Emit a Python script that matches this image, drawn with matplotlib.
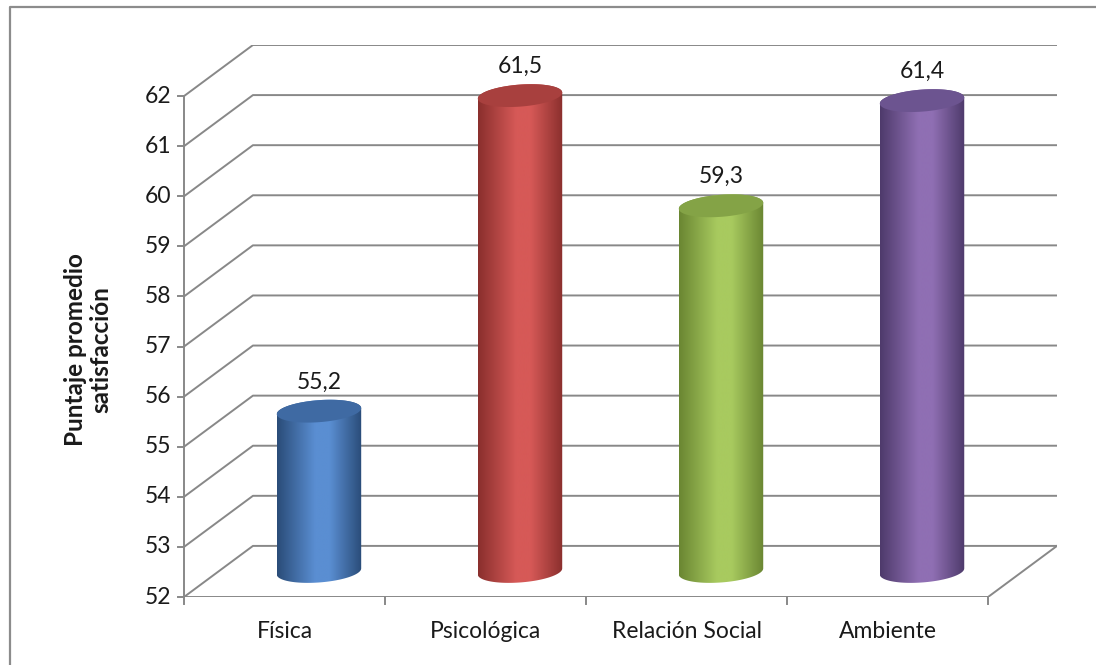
import numpy as np
import matplotlib
matplotlib.use('Agg')
import matplotlib.pyplot as plt
from matplotlib.patches import Polygon
from matplotlib.lines import Line2D
from matplotlib.colors import LinearSegmentedColormap

# datos
categorias = ['Física', 'Psicológica', 'Relación Social', 'Ambiente']
puntajes = [55.2, 61.5, 59.3, 61.4]
etiquetas = ['55,2', '61,5', '59,3', '61,4']
y_ticks = list(range(52, 63))

# (borde oscuro, brillo, tapa)
colores = [
    ('#2a4c78', '#5a8ed2', '#3f6aa3'),
    ('#8a2f2d', '#d65957', '#a8403e'),
    ('#6a8632', '#a8ca5f', '#84a346'),
    ('#4e3a6b', '#8f6fb3', '#6c5490'),
]

plt.rcParams['font.family'] = ['Lato', 'DejaVu Sans']

Y_MIN, Y_MAX = 52, 62
DX, DY = 0.343, 1.02      # desplazamiento de profundidad (perspectiva)
A, B, S = 0.21, 0.22, 0.06  # semiejes de la elipse y su inclinacion
GRIS = '#888888'
FS = 16.5

fig = plt.figure(figsize=(10.96, 6.65), dpi=100)
ax = fig.add_axes([184 / 1096, 68 / 665, 873 / 1096, 552 / 665])
ax.set_axis_off()
n = len(categorias)
x0, x1 = -0.5, n - 0.5

# rejilla: pared izquierda + pared del fondo
for v in y_ticks:
    ax.plot([x0, x0 + DX, x1 + DX], [v, v + DY, v + DY], color=GRIS, lw=1.4,
            solid_capstyle='butt', zorder=1)
# suelo
ax.plot([x0, x1, x1 + DX], [Y_MIN, Y_MIN, Y_MIN + DY], color=GRIS, lw=1.4, zorder=1)
# eje vertical frontal
ax.plot([x0, x0], [Y_MIN, Y_MAX], color=GRIS, lw=1.4, zorder=1, clip_on=False)

tick_dx = 6 / 201
tick_dy = 7 / 50.1
for v in y_ticks:
    ax.plot([x0 - tick_dx, x0], [v, v], color=GRIS, lw=1.4, clip_on=False)
    ax.annotate(str(v), (x0, v), xytext=(-9, 0), textcoords='offset points',
                ha='right', va='center', fontsize=FS, color='#1a1a1a')
for k in range(n + 1):
    ax.plot([x0 + k, x0 + k], [Y_MIN, Y_MIN - tick_dy], color=GRIS, lw=1.4, clip_on=False)
for i, c in enumerate(categorias):
    ax.annotate(c, (i, Y_MIN), xytext=(0, -25), textcoords='offset points',
                ha='center', va='center', fontsize=FS, color='#1a1a1a')


def elipse(cx, cy, t):
    return cx + A * np.cos(t), cy + B * np.sin(t) + S * np.cos(t)


# cilindros
for i, (v, lab) in enumerate(zip(puntajes, etiquetas)):
    oscuro, claro, tapa = colores[i]
    cx = i + DX / 2
    yb = Y_MIN + DY / 2
    yt = v + DY / 2

    t_inf = np.linspace(np.pi, 2 * np.pi, 60)
    t_sup = np.linspace(0, np.pi, 60)
    xb, ybb = elipse(cx, yb, t_inf)
    xt, ytt = elipse(cx, yt, t_sup)
    cuerpo = Polygon(np.column_stack([np.r_[xb, xt], np.r_[ybb, ytt]]),
                     closed=True, facecolor='none', edgecolor='none')
    ax.add_patch(cuerpo)

    cmap = LinearSegmentedColormap.from_list(
        'c%d' % i, [(0, oscuro), (0.45, claro), (0.62, claro), (1, oscuro)])
    grad = np.linspace(0, 1, 256).reshape(1, -1)
    im = ax.imshow(grad, cmap=cmap, aspect='auto', interpolation='bilinear',
                   extent=[cx - A, cx + A, yb - B - 0.2, yt + B + 0.2], zorder=3)
    im.set_clip_path(cuerpo)

    t = np.linspace(0, 2 * np.pi, 120)
    xe, ye = elipse(cx, yt, t)
    ax.fill(xe, ye, color=tapa, lw=0, zorder=4)

    ax.annotate(lab, (cx, yt), xytext=(0, 21), textcoords='offset points',
                ha='center', va='center', fontsize=FS, color='#1a1a1a', zorder=5)

ax.set_xlim(x0, x1 + DX)
ax.set_ylim(Y_MIN, Y_MAX + DY)

fig.text(88 / 1096, 1 - 350 / 665, 'Puntaje promedio\nsatisfacción', rotation=90,
         ha='center', va='center', fontsize=17.5, fontweight='bold', linespacing=1.12,
         color='#1a1a1a')

# marco exterior del grafico
fig.add_artist(Line2D([10 / 1096, 10 / 1096, 1.0], [0, 1 - 7 / 665, 1 - 7 / 665],
                      transform=fig.transFigure, color='#8c8c8c', lw=1.6))

fig.savefig('out.png', dpi=100)
